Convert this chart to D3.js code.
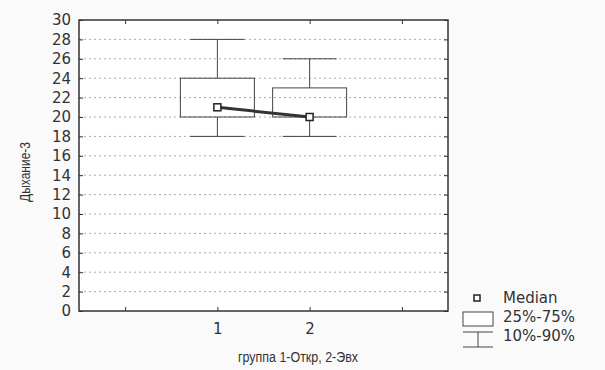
<!DOCTYPE html>
<html>
<head>
<meta charset="utf-8">
<script src="https://cdn.jsdelivr.net/npm/d3@7"></script>
<style>
  body { margin: 0; background: #fafafa; }
  svg { display: block; font-family: "Liberation Sans", Arial, sans-serif; }
  .grid line { stroke: #aaa; stroke-dasharray: 2 3; stroke-width: 1; }
  .tick-label { fill: #333; font-size: 15px; font-family: "DejaVu Sans", sans-serif; }
  .legend-label { fill: #333; font-size: 15px; font-family: "DejaVu Sans", sans-serif; }
  .title { fill: #333; font-size: 14px; }
</style>
</head>
<body>
<svg width="605" height="370"></svg>
<script>
// groups on the x axis
const groups = [1, 2];
const xTickValues = [0, 1, 2, 3];
const xTickLabels = ['', '1', '2', ''];
const yTicks = d3.range(0, 31, 2);

// box statistics per group
const medians = [21, 20];
const q25 = [20, 20];
const q75 = [24, 23];
const p10 = [18, 18];
const p90 = [28, 26];

const legendLabels = ['Median', '25%-75%', '10%-90%'];

const margin = { left: 79, top: 20, right: 157, bottom: 59 };
const W = 605, H = 370;
const innerW = W - margin.left - margin.right;
const innerH = H - margin.top - margin.bottom;

const svg = d3.select('svg');
const g = svg.append('g').attr('transform', `translate(${margin.left},${margin.top})`);

const x = d3.scaleLinear().domain([-0.5, 3.5]).range([0, innerW]);
const y = d3.scaleLinear().domain([0, 30]).range([innerH, 0]);

g.append('rect').attr('width', innerW).attr('height', innerH).attr('fill', '#fff');

// dotted grid
g.append('g').attr('class', 'grid')
  .selectAll('line')
  .data(yTicks.filter(d => d > 0 && d < 30))
  .join('line')
  .attr('x1', 0).attr('x2', innerW)
  .attr('y1', d => y(d)).attr('y2', d => y(d));

// axes with inward ticks
const tickStyle = sel => {
  sel.select('.domain').remove();
  sel.selectAll('.tick line').attr('stroke', '#333');
  sel.selectAll('.tick text').attr('class', 'tick-label').attr('font-size', null).attr('font-family', null);
};

g.append('g')
  .call(d3.axisLeft(y).tickValues(yTicks).tickSize(-4).tickPadding(8))
  .call(tickStyle);
g.append('g').attr('transform', `translate(${innerW},0)`)
  .call(d3.axisRight(y).tickValues(yTicks).tickSize(-4).tickFormat(() => ''))
  .call(tickStyle);
g.append('g').attr('transform', `translate(0,${innerH})`)
  .call(d3.axisBottom(x).tickValues(xTickValues).tickSize(-4).tickPadding(12)
    .tickFormat((d, i) => xTickLabels[i]))
  .call(tickStyle);
g.append('g')
  .call(d3.axisTop(x).tickValues(xTickValues).tickSize(-4).tickFormat(() => ''))
  .call(tickStyle);

g.append('rect').attr('width', innerW).attr('height', innerH)
  .attr('fill', 'none').attr('stroke', '#333').attr('stroke-width', 1.5);

// boxes
const boxW = 74, capW = 54;
const stroke = '#444';

groups.forEach((d, i) => {
  const cx = x(d);
  g.append('line').attr('x1', cx).attr('x2', cx)
    .attr('y1', y(p90[i])).attr('y2', y(q75[i])).attr('stroke', stroke);
  g.append('line').attr('x1', cx).attr('x2', cx)
    .attr('y1', y(q25[i])).attr('y2', y(p10[i])).attr('stroke', stroke);
  [p10[i], p90[i]].forEach(v => {
    g.append('line').attr('x1', cx - capW / 2).attr('x2', cx + capW / 2)
      .attr('y1', y(v)).attr('y2', y(v)).attr('stroke', stroke);
  });
  g.append('rect').attr('x', cx - boxW / 2).attr('y', y(q75[i]))
    .attr('width', boxW).attr('height', y(q25[i]) - y(q75[i]))
    .attr('fill', 'none').attr('stroke', stroke);
});

// median line and markers
g.append('path')
  .datum(groups.map((d, i) => [x(d), y(medians[i])]))
  .attr('d', d3.line())
  .attr('fill', 'none').attr('stroke', '#333').attr('stroke-width', 3);

g.selectAll('.med')
  .data(groups)
  .join('rect')
  .attr('x', d => x(d) - 3.5).attr('y', (d, i) => y(medians[i]) - 3.5)
  .attr('width', 7).attr('height', 7)
  .attr('fill', '#fff').attr('stroke', '#222').attr('stroke-width', 1.5);

// axis titles (the original font is narrower than Arial)
svg.append('text').attr('class', 'title')
  .attr('transform', 'translate(30,172) rotate(-90)')
  .attr('text-anchor', 'middle')
  .attr('textLength', 60).attr('lengthAdjust', 'spacingAndGlyphs')
  .text('Дыхание-3');
svg.append('text').attr('class', 'title')
  .attr('x', 298).attr('y', 362)
  .attr('text-anchor', 'middle')
  .attr('textLength', 120).attr('lengthAdjust', 'spacingAndGlyphs')
  .text('группа 1-Откр, 2-Эвх');

// legend
const lg = svg.append('g').attr('transform', 'translate(463,298)');
lg.append('rect').attr('x', 11).attr('y', -3).attr('width', 6).attr('height', 6)
  .attr('fill', '#fff').attr('stroke', '#222').attr('stroke-width', 1.5);
lg.append('rect').attr('x', 0).attr('y', 14).attr('width', 30).attr('height', 14)
  .attr('fill', '#fff').attr('stroke', stroke);
lg.append('line').attr('x1', 0).attr('x2', 30).attr('y1', 34).attr('y2', 34).attr('stroke', stroke);
lg.append('line').attr('x1', 0).attr('x2', 30).attr('y1', 49).attr('y2', 49).attr('stroke', stroke);
lg.append('line').attr('x1', 15).attr('x2', 15).attr('y1', 34).attr('y2', 49).attr('stroke', stroke);
lg.selectAll('.lt')
  .data(legendLabels)
  .join('text').attr('class', 'legend-label')
  .attr('x', 40).attr('y', (d, i) => 5 + i * 19)
  .text(d => d);
</script>
</body>
</html>
